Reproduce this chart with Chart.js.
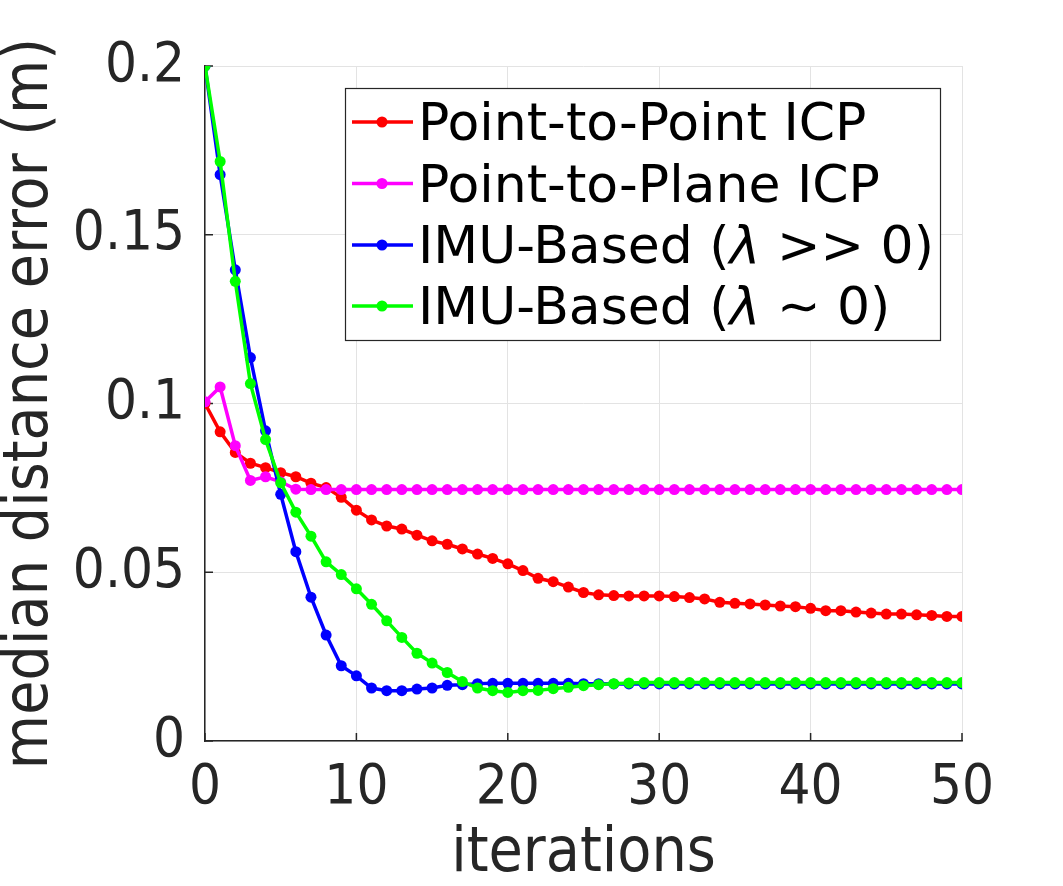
<!DOCTYPE html>
<html><head><meta charset="utf-8">
<script src="https://cdn.jsdelivr.net/npm/chart.js@4.4.1/dist/chart.umd.min.js"></script>
<style>html,body{margin:0;padding:0;background:#fff;overflow:hidden;} #wrap{width:1063px;height:886px;position:relative;}</style>
</head><body><div id="wrap"><canvas id="c"></canvas></div>
<script>
const iterations = [0,1,2,3,4,5,6,7,8,9,10,11,12,13,14,15,16,17,18,19,20,21,22,23,24,25,26,27,28,29,30,31,32,33,34,35,36,37,38,39,40,41,42,43,44,45,46,47,48,49,50];
const pointToPoint = [0.1000,0.0916,0.0855,0.0823,0.0810,0.0795,0.0783,0.0764,0.0751,0.0722,0.0684,0.0655,0.0637,0.0628,0.0610,0.0593,0.0583,0.0569,0.0554,0.0541,0.0525,0.0505,0.0482,0.0472,0.0456,0.0440,0.0433,0.0431,0.0430,0.0430,0.0430,0.0428,0.0425,0.0421,0.0411,0.0408,0.0406,0.0403,0.0400,0.0398,0.0393,0.0386,0.0386,0.0382,0.0379,0.0376,0.0376,0.0374,0.0372,0.0369,0.0369];
const pointToPlane = [0.1005,0.1049,0.0875,0.0772,0.0783,0.0768,0.0746,0.0745,0.0745,0.0745,0.0745,0.0745,0.0745,0.0745,0.0745,0.0745,0.0745,0.0745,0.0745,0.0745,0.0745,0.0745,0.0745,0.0745,0.0745,0.0745,0.0745,0.0745,0.0745,0.0745,0.0745,0.0745,0.0745,0.0745,0.0745,0.0745,0.0745,0.0745,0.0745,0.0745,0.0745,0.0745,0.0745,0.0745,0.0745,0.0745,0.0745,0.0745,0.0745,0.0745,0.0745];
const imuLambdaHigh = [0.2000,0.1678,0.1396,0.1136,0.0919,0.0731,0.0561,0.0426,0.0314,0.0223,0.0193,0.0157,0.0149,0.0149,0.0154,0.0157,0.0165,0.0167,0.0170,0.0171,0.0171,0.0171,0.0171,0.0171,0.0171,0.0170,0.0170,0.0169,0.0169,0.0169,0.0169,0.0169,0.0169,0.0169,0.0169,0.0169,0.0169,0.0169,0.0169,0.0169,0.0169,0.0169,0.0169,0.0169,0.0169,0.0169,0.0169,0.0169,0.0169,0.0169,0.0169];
const imuLambdaZero = [0.2000,0.1717,0.1362,0.1059,0.0893,0.0765,0.0678,0.0607,0.0531,0.0493,0.0451,0.0405,0.0356,0.0307,0.0260,0.0231,0.0203,0.0176,0.0157,0.0149,0.0144,0.0149,0.0150,0.0155,0.0159,0.0164,0.0167,0.0170,0.0172,0.0173,0.0173,0.0173,0.0173,0.0173,0.0173,0.0173,0.0173,0.0173,0.0173,0.0173,0.0173,0.0173,0.0173,0.0173,0.0173,0.0173,0.0173,0.0173,0.0173,0.0173,0.0173];
const seriesNames = ['Point-to-Point ICP','Point-to-Plane ICP','IMU-Based (λ >> 0)','IMU-Based (λ ∼ 0)'];
const seriesColors = ['#ff0000','#ff00ff','#0000ff','#00ff00'];
const xTickValues = [0,10,20,30,40,50];
const yTickValues = [0,0.05,0.1,0.15,0.2];
const yTickLabels = ['0','0.05','0.1','0.15','0.2'];
const xTitle = 'iterations';
const yTitle = 'median distance error (m)';

const FONT = "'DejaVu Sans Condensed', 'DejaVu Sans', sans-serif";
const LFONT = "'DejaVu Sans', sans-serif";
const TXT = '#262626';

const innerTicks = {
  id: 'innerTicks',
  beforeDatasetsDraw(chart) {
    const {ctx, chartArea: a, scales: {x, y}} = chart;
    ctx.save();
    ctx.strokeStyle = TXT; ctx.lineWidth = 1.5;
    ctx.beginPath();
    xTickValues.forEach(v => { const px = x.getPixelForValue(v); ctx.moveTo(px, a.bottom); ctx.lineTo(px, a.bottom - 8); });
    yTickValues.forEach(v => { const py = y.getPixelForValue(v); ctx.moveTo(a.left, py); ctx.lineTo(a.left + 8, py); });
    ctx.stroke();
    ctx.restore();
  }
};

const boxLegend = {
  id: 'boxLegend',
  afterDraw(chart) {
    const ctx = chart.ctx;
    const bx = 345, by = 88, bw = 595, bh = 252;
    ctx.save();
    ctx.fillStyle = '#fff';
    ctx.fillRect(bx, by, bw, bh);
    ctx.strokeStyle = TXT; ctx.lineWidth = 1.2;
    ctx.strokeRect(bx + 0.5, by + 0.5, bw, bh);
    const rowY = [122, 183.5, 245, 306];
    chart.data.datasets.forEach((ds, i) => {
      const cy = rowY[i];
      ctx.strokeStyle = ds.borderColor; ctx.lineWidth = 3.5;
      ctx.beginPath(); ctx.moveTo(352, cy); ctx.lineTo(413, cy); ctx.stroke();
      ctx.fillStyle = ds.borderColor;
      ctx.beginPath(); ctx.arc(382, cy, 5.5, 0, Math.PI * 2); ctx.fill();
      const parts = ds.label.split('λ');
      let tx = 418;
      ctx.fillStyle = '#000'; ctx.textBaseline = 'alphabetic';
      parts.forEach((p, k) => {
        ctx.font = '52px ' + LFONT;
        ctx.fillText(p, tx, cy + 18);
        tx += ctx.measureText(p).width;
        if (k < parts.length - 1) {
          ctx.font = 'italic 52px ' + LFONT;
          ctx.fillText('λ', tx, cy + 18);
          tx += ctx.measureText('λ').width;
        }
      });
    });
    ctx.restore();
  }
};

const makeDs = (label, data, color, order) => ({
  label, data, borderColor: color, backgroundColor: color,
  borderWidth: 3.5, pointRadius: 5.5, pointHoverRadius: 5.5, pointBorderWidth: 0,
  pointBackgroundColor: color, tension: 0, order
});

new Chart(document.getElementById('c'), {
  type: 'line',
  data: {
    labels: iterations,
    datasets: [
      makeDs(seriesNames[0], pointToPoint, seriesColors[0], 3),
      makeDs(seriesNames[1], pointToPlane, seriesColors[1], 2),
      makeDs(seriesNames[2], imuLambdaHigh, seriesColors[2], 1),
      makeDs(seriesNames[3], imuLambdaZero, seriesColors[3], 0)
    ]
  },
  options: {
    responsive: true, maintainAspectRatio: false, animation: false,
    layout: { padding: { top: 66, right: 101, left: 0, bottom: 0 } },
    plugins: { legend: { display: false }, tooltip: { enabled: false } },
    scales: {
      x: {
        type: 'linear', min: 0, max: 50,
        afterBuildTicks: s => { s.ticks = xTickValues.map(v => ({ value: v })); },
        afterFit: s => { s.height = 145; },
        grid: { color: '#e3e3e3', lineWidth: 1, drawTicks: false },
        border: { color: TXT, width: 1.5 },
        ticks: { color: TXT, font: { family: FONT, size: 56 }, padding: 14, maxRotation: 0 },
        title: { display: true, text: xTitle, color: TXT, font: { family: FONT, size: 62, lineHeight: 1 }, padding: 0 }
      },
      y: {
        min: 0, max: 0.2,
        afterBuildTicks: s => { s.ticks = yTickValues.map(v => ({ value: v })); },
        afterFit: s => { s.width = 205; },
        grid: { color: '#e3e3e3', lineWidth: 1, drawTicks: false },
        border: { color: TXT, width: 1.5 },
        ticks: { color: TXT, font: { family: FONT, size: 56 }, padding: 20, callback: (v, i) => yTickLabels[i] },
        title: { display: true, text: yTitle, color: TXT, font: { family: FONT, size: 62, lineHeight: 1 }, padding: 0 }
      }
    }
  },
  plugins: [innerTicks, boxLegend]
});
</script></body></html>
